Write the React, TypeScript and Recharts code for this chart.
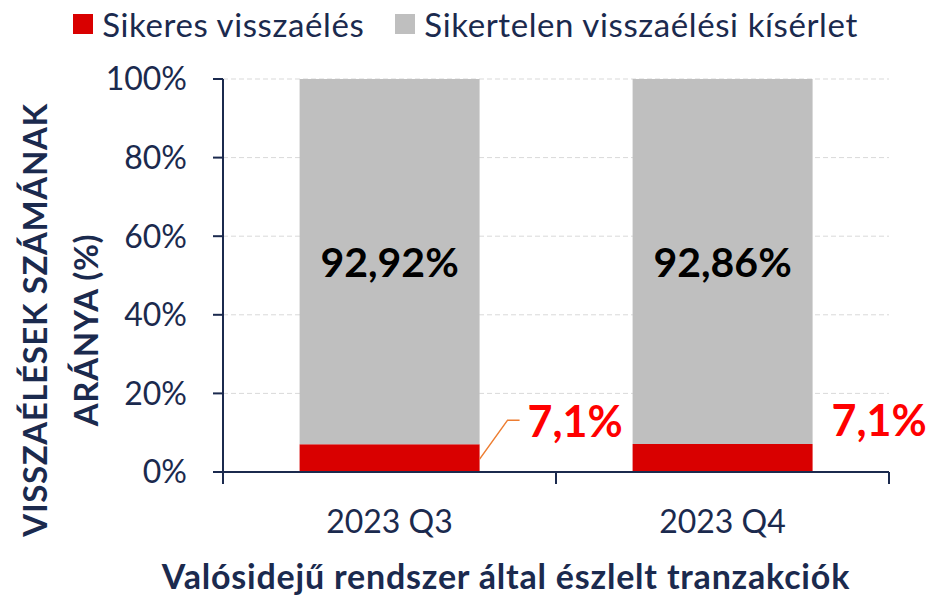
import React from 'react';
import { BarChart, Bar, XAxis, YAxis, CartesianGrid, Legend, LabelList } from 'recharts';

const QUARTERS = ['2023 Q3', '2023 Q4'];
const SUCCESSFUL = [7.08, 7.14];
const UNSUCCESSFUL = [92.92, 92.86];
const SUCCESS_LABELS = ['7,1%', '7,1%'];
const FAIL_LABELS = ['92,92%', '92,86%'];
const Y_TICKS = [0, 20, 40, 60, 80, 100];

const SERIES = [
    { key: 'successful', name: 'Sikeres visszaélés', color: '#D90000' },
    { key: 'unsuccessful', name: 'Sikertelen visszaélési kísérlet', color: '#BFBFBF' },
];

const data = QUARTERS.map((q, i) => ({
    quarter: q,
    successful: SUCCESSFUL[i],
    unsuccessful: UNSUCCESSFUL[i],
}));

const W = 931;
const H = 597;
const MARGIN = { top: 79, right: 42, bottom: 0, left: 0 };
const Y_AXIS_W = 223;
const X_AXIS_H = 125;
const HALF_BAND = (W - Y_AXIS_W - MARGIN.right) / QUARTERS.length / 2;

const NAVY = '#1B2A4E';
const FONT = "Lato, 'Noto Sans', sans-serif";

// red label placement (right of the bar), leader line only on the first one
const RED_LABEL_GAP = [48, 19];
const RED_LEADER = [true, false];

const XTick = (props: any) => {
    const { x, y, payload } = props;
    return (
        <g>
            <line x1={x - HALF_BAND} x2={x - HALF_BAND} y1={y} y2={y + 12} stroke={NAVY} strokeWidth={2} />
            <line x1={x + HALF_BAND} x2={x + HALF_BAND} y1={y} y2={y + 12} stroke={NAVY} strokeWidth={2} />
            <text x={x} y={y + 48} textAnchor="middle" dominantBaseline="central" fill={NAVY} fontSize={32} fontFamily={FONT}>
                {payload.value}
            </text>
        </g>
    );
};

const RedLabel = (props: any) => {
    const { x, y, width, index } = props;
    const right = x + width;
    const ty = y - 24;
    return (
        <g>
            {RED_LEADER[index] && (
                <polyline
                    points={`${right},${y + 15} ${right + 28},${ty} ${right + 40},${ty}`}
                    fill="none"
                    stroke="#ED7D31"
                    strokeWidth={1.5}
                />
            )}
            <text x={right + RED_LABEL_GAP[index]} y={ty} dominantBaseline="central" fill="#FF0000" fontSize={43} fontWeight="bold" fontFamily={FONT}>
                {SUCCESS_LABELS[index]}
            </text>
        </g>
    );
};

const GrayLabel = (props: any) => {
    const { x, y, width, height, index } = props;
    return (
        <text x={x + width / 2} y={y + height / 2} textAnchor="middle" dominantBaseline="central" fill="#000" fontSize={41} fontWeight="bold" fontFamily={FONT}>
            {FAIL_LABELS[index]}
        </text>
    );
};

const YTitle = () => (
    <g fill={NAVY} fontSize={33} fontWeight="bold" fontFamily={FONT} letterSpacing={0.6}>
        <text x={34} y={320} transform="rotate(-90, 34, 320)" textAnchor="middle" dominantBaseline="central">
            VISSZAÉLÉSEK SZÁMÁNAK
        </text>
        <text x={85} y={330} transform="rotate(-90, 85, 330)" textAnchor="middle" dominantBaseline="central">
            ARÁNYA (%)
        </text>
    </g>
);

const XTitle = () => (
    <text x={506} y={575} textAnchor="middle" dominantBaseline="central" fill={NAVY} fontSize={34} fontWeight="bold" fontFamily={FONT} letterSpacing={0.8}>
        Valósidejű rendszer által észlelt tranzakciók
    </text>
);

const LegendBox = () => (
    <div style={{ display: 'flex', justifyContent: 'center', alignItems: 'center', gap: 31, fontFamily: FONT, fontSize: 33, letterSpacing: 0.6, color: NAVY, lineHeight: '40px' }}>
        {SERIES.map((s) => (
            <div key={s.key} style={{ display: 'flex', alignItems: 'center' }}>
                <span style={{ display: 'inline-block', width: 20, height: 20, background: s.color, marginRight: 9 }} />
                {s.name}
            </div>
        ))}
    </div>
);

export default function App() {
    return (
        <div style={{ position: 'absolute', left: 0, top: 0, width: W, height: H, background: '#fff' }}>
            <BarChart width={W} height={H} data={data} margin={MARGIN} barCategoryGap="23%">
                <CartesianGrid vertical={false} stroke="#D9D9D9" strokeDasharray="5 3" />
                <XAxis
                    dataKey="quarter"
                    height={X_AXIS_H}
                    axisLine={{ stroke: NAVY, strokeWidth: 2 }}
                    tickLine={false}
                    tickSize={0}
                    tickMargin={0}
                    tick={<XTick />}
                    interval={0}
                    label={<XTitle />}
                />
                <YAxis
                    type="number"
                    domain={[0, 100]}
                    ticks={Y_TICKS}
                    width={Y_AXIS_W}
                    tickFormatter={(v: number) => `${v}%`}
                    axisLine={{ stroke: NAVY, strokeWidth: 2 }}
                    tickLine={{ stroke: NAVY, strokeWidth: 2 }}
                    tickSize={10}
                    tickMargin={26}
                    tick={{ fill: NAVY, fontSize: 32, fontFamily: FONT }}
                    label={<YTitle />}
                />
                <Legend
                    layout="horizontal"
                    verticalAlign="middle"
                    align="center"
                    wrapperStyle={{ top: 4, left: 0, width: W }}
                    content={<LegendBox />}
                />
                <Bar dataKey="successful" name={SERIES[0].name} stackId="a" fill={SERIES[0].color} isAnimationActive={false}>
                    <LabelList dataKey="successful" content={<RedLabel />} />
                </Bar>
                <Bar dataKey="unsuccessful" name={SERIES[1].name} stackId="a" fill={SERIES[1].color} isAnimationActive={false}>
                    <LabelList dataKey="unsuccessful" content={<GrayLabel />} />
                </Bar>
            </BarChart>
        </div>
    );
}
